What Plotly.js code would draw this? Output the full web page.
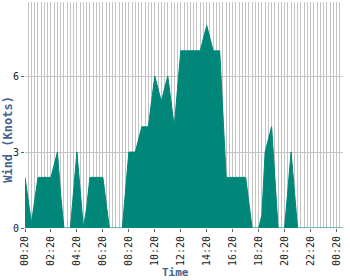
<!DOCTYPE html>
<html>
<head>
<meta charset="utf-8">
<script src="https://cdn.plot.ly/plotly-3.0.1.min.js"></script>
<style>html,body{margin:0;padding:0;background:#fff;}#chart{width:350px;height:280px;}</style>
</head>
<body>
<div id="chart"></div>
<script>
// Wind speed (knots), one reading every 15 minutes starting 00:20
var startTime = '00:20';
var stepMinutes = 15;
var windKnots = [
  2, 1.1, 0.2, 1.1, 2, 2, 2, 2, 2, 2.5, 3, 1.3, 0, 0, 0, 1.5,
  3, 1.5, 0, 0.8, 2, 2, 2, 2, 2, 1, 0, 0, 0, 0, 0, 1.5,
  3, 3, 3, 3.5, 4, 4, 4, 5, 6, 5.5, 5, 5.5, 6, 5, 4, 5.5,
  7, 7, 7, 7, 7, 7, 7, 7.5, 8, 7.5, 7, 7, 7, 4.5, 2, 2,
  2, 2, 2, 2, 2, 1, 0, 0, 0, 0.5, 3, 3.5, 4, 2, 0, 0,
  0, 1.5, 3, 1.5, 0, 0, 0, 0, 0, 0, 0, 0, 0, 0, 0, 0,
  0, 0, 0
];
var tickLabels = ['00:20','02:20','04:20','06:20','08:20','10:20','12:20','14:20','16:20','18:20','20:20','22:20','00:20'];
var tickEvery = 8; // one label every 2 hours

var idx = windKnots.map(function(v, i){ return i; });
var times = idx.map(function(i){
  var p = startTime.split(':');
  var m = (parseInt(p[0],10)*60 + parseInt(p[1],10) + i*stepMinutes) % 1440;
  var h = Math.floor(m/60), mm = m % 60;
  return (h<10?'0':'')+h+':'+(mm<10?'0':'')+mm;
});
var tickVals = tickLabels.map(function(t, k){ return k*tickEvery; });

var titleColor = '#46648a';
var grid = '#c4c4c4';
var mono = 'DejaVu Sans Mono, monospace';

var trace = {
  x: idx, y: windKnots, text: times,
  type: 'scatter', mode: 'lines',
  line: {color: '#00877a', width: 1, shape: 'linear'},
  fill: 'tozeroy', fillcolor: '#00877a',
  hoverinfo: 'text+y'
};

var layout = {
  width: 350, height: 280,
  margin: {l: 25, r: 7, t: 2, b: 52, pad: 0},
  paper_bgcolor: '#fff', plot_bgcolor: '#fff',
  showlegend: false,
  font: {family: mono, size: 10, color: '#222'},
  xaxis: {
    range: [0, windKnots.length - 1],
    tickmode: 'array', tickvals: tickVals, ticktext: tickLabels,
    tickangle: -90, ticks: 'outside', ticklen: 3, tickcolor: '#666',
    showgrid: true, gridcolor: grid, gridwidth: 1,
    minor: {tickmode: 'linear', tick0: 0, dtick: 1, showgrid: true, gridcolor: grid, gridwidth: 1, ticks: ''},
    zeroline: false, showline: false,
    tickfont: {family: mono, size: 10, color: '#222'}
  },
  yaxis: {
    range: [0, 8.93],
    tickmode: 'array', tickvals: [0, 3, 6], ticktext: ['0', '3', '6'],
    ticks: 'outside', ticklen: 3, tickcolor: '#666',
    showgrid: true, gridcolor: grid, gridwidth: 1,
    zeroline: false, showline: false,
    tickfont: {family: mono, size: 10, color: '#222'}
  },
  annotations: [
    {text: '<b>Wind (Knots)</b>', xref: 'paper', yref: 'paper',
     x: (8 - 25) / 318, y: (228.3 - 140) / 226.3, xanchor: 'center', yanchor: 'middle',
     textangle: -90, showarrow: false, font: {family: mono, size: 12, color: titleColor}},
    {text: '<b>Time</b>', xref: 'paper', yref: 'paper',
     x: (175 - 25) / 318, y: (228.3 - 272.5) / 226.3, xanchor: 'center', yanchor: 'middle',
     showarrow: false, font: {family: mono, size: 11, color: titleColor}}
  ]
};

Plotly.newPlot('chart', [trace], layout, {displayModeBar: false, staticPlot: true});
</script>
</body>
</html>
